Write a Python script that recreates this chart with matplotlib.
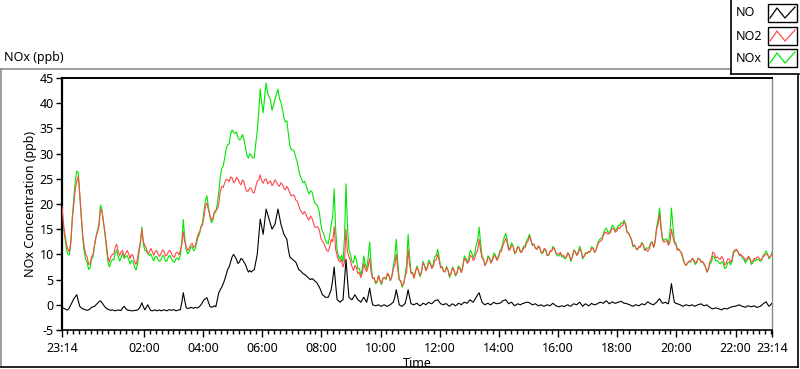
import numpy as np
import matplotlib
matplotlib.use("Agg")
import matplotlib.pyplot as plt
from matplotlib.lines import Line2D
from matplotlib.patches import Rectangle

plt.rcParams['font.family'] = ['Noto Sans', 'DejaVu Sans']

# ---- data: readings every 0.1 h from 23:14 (base) and the reading between them (mid) ----
no_base = [-0.5,-0.8,-1,0,1.2,2,-0.3,-0.8,-1,-1,
           -0.5,-0.3,0.3,0.8,0,-0.7,-1,-1,-1.2,-1,
           -1.1,-0.3,-1,-1.1,-1.2,-1.1,-0.8,0.4,-1,0,
           -1.1,-1.1,-1.2,-1,-1.1,-1.1,-1,-1.1,-1,-1.1,
           -1,2.4,-0.6,-0.7,-0.6,-0.5,-0.6,0,1,1.4,
           -0.3,-0.4,-0.4,2.4,3.5,5,7,8.5,10,9,
           8.5,9,8,6.5,6.5,7,10,17,14,19,
           17,15,16,19,16,14,13,9.5,9,8.5,
           7,6.5,6,5.5,5,5,4.5,3.5,2,1.5,
           1.5,3,7.5,1,0.5,1,9,1.5,1,2,
           1,0.5,1.5,0.5,3.3,0,-0.2,0,-0.3,0,
           -0.3,0,0.5,3,0,-0.3,0.3,3,0.2,0,
           0.3,-0.2,0.3,0,0.5,0.2,0.8,1,0.2,0,
           0.2,-0.3,0.2,-0.2,0.3,0,0.5,0.3,1,0.5,
           1.5,2.4,0.5,0,0.3,0,0.5,0.2,0.3,0.8,
           1,0.2,0.5,-0.2,0.2,0,0.3,0.5,0.4,0,
           0.2,-0.2,0,-0.3,0,-0.2,0.3,-0.2,-0.4,-0.2,
           -0.3,0,-0.3,0.2,0,0.5,-0.3,0.2,-0.2,0.3,
           0,0.2,0.5,0.3,0.8,0.2,0.6,0.3,0.5,0.7,
           0.3,0.2,0,-0.3,0,-0.2,0.2,0,0.6,0.2,
           0,0.5,1.2,0.3,0.5,0.2,4.2,0.5,0.2,0,
           -0.3,0,-0.2,0,-0.3,0,0.2,-0.2,0,-0.5,
           -0.8,-0.6,-0.8,-1,-0.7,-0.8,-0.5,-0.3,-0.2,0,
           -0.3,-0.5,-0.2,-0.4,-0.2,-0.5,-0.3,0.2,0.6,-0.3,
           0.3]
no_mid = [-0.7,-1,-0.6,0.6,1.6,0.8,-0.6,-0.9,-1.1,-0.8,
          -0.4,0,0.6,0.4,-0.4,-0.9,-1.1,-1.1,-1.1,-1.1,
          -0.6,-0.7,-1.1,-1.2,-1.1,-1,-0.3,-0.4,-0.5,-0.6,
          -1.2,-1,-1.1,-1.2,-1,-1.2,-1,-1,-1.2,-1,
          0.5,0.8,-0.7,-0.5,-0.7,-0.6,-0.3,0.5,1.2,0.5,
          -0.5,-0.2,1,3,4.2,6,7.5,9.5,9.5,8.2,
          9.2,8.5,7.2,6.8,6.8,8.5,13.5,15.5,16.5,18,
          16,15.5,17.5,17.5,15,13.5,11,9.2,8.7,7.8,
          6.8,6.2,5.8,5.2,5.2,4.7,4,2.8,1.8,1.5,
          2.2,5,4,0.8,0.8,5,5,1.2,1.5,1.5,
          0.8,1,1,1.8,1.5,-0.1,-0.1,-0.2,-0.1,-0.2,
          -0.1,0.3,1.5,1.5,-0.2,0,1.5,1.5,0.1,0.2,
          0,0,0.2,0.3,0.3,0.5,0.9,0.6,0.1,0.2,
          -0.1,0,0,0,0.2,0.3,0.4,0.7,0.7,1,
          2,1.4,0.2,0.2,0.1,0.3,0.3,0.3,0.5,0.9,
          0.6,0.4,0.1,0,0.1,0.2,0.4,0.5,0.2,0.1,
          0,-0.1,-0.2,-0.1,-0.1,0.1,0,-0.3,-0.3,-0.3,
          -0.1,-0.2,0,0.1,0.3,0.1,0,0,0,0.1,
          0.1,0.4,0.4,0.6,0.5,0.4,0.4,0.4,0.6,0.5,
          0.3,0.1,-0.2,-0.1,-0.1,0,0.1,0.3,0.4,0.1,
          0.3,0.9,0.7,0.4,0.3,2,2.2,0.3,0.1,-0.2,
          -0.1,-0.1,-0.1,-0.2,-0.1,0.1,0,-0.1,-0.3,-0.7,
          -0.7,-0.7,-0.9,-0.8,-0.8,-0.6,-0.4,-0.3,-0.1,-0.2,
          -0.4,-0.3,-0.3,-0.3,-0.4,-0.4,-0.1,0.4,0.1,0]

no2_base = [19.5,14,11,12.5,20,24.5,22,14,10,8,
            9.5,12,14.5,19,16.5,12,8.5,10,11.5,10.5,
            10.5,9.5,10.8,9.2,9.8,8,11,15,11.8,10.2,
            11.2,9.8,10.8,9.6,10.9,9.7,10.6,10.2,9.4,10.4,
            10.8,14.5,11.5,11.2,12.2,11.6,14,15.5,17.5,20.2,
            17.8,17.2,18.8,20,23.5,24.2,24.8,25.4,24.2,25.3,
            24.2,24.8,23.2,22.6,23.1,22.2,24.5,25.8,24.1,25,
            24.3,23.6,24.8,23.8,24.2,23.1,23.5,22.2,21.8,20.8,
            19.8,18.4,18.5,17.2,17.6,16.2,15.4,14.8,12.6,11.4,
            10.6,13,15.5,9.8,8.5,7.5,15,9.5,7.6,7.8,
            6.2,5.4,8.2,6.6,9.2,5.2,4.4,5.8,4.3,5.4,
            6.3,4.8,7.2,10,5,3.8,5.7,11,6.2,5.3,
            7.4,5.8,8.3,6.8,8.4,7.2,8.8,10,7.3,6.6,
            7.4,5.7,7.3,5.9,7.4,6.4,9.2,8.2,9.8,8.8,
            10.3,13,9.2,7.8,9.4,8.3,9.8,8.8,10.4,11.6,
            13.2,10.8,11.8,10.3,11.4,10.4,11.3,12.2,13.6,11.8,
            11.2,11.7,10.3,11.2,9.8,10.7,11.3,10.3,10.1,9.7,
            9.4,10.3,8.9,10.7,9.8,11.1,9.4,10.2,10.6,11.2,
            10.4,11.8,12.6,13.8,14.4,14.1,15.2,14.4,15.3,15.6,
            16.5,14.3,13.6,11.8,11.2,11.6,12.2,10.8,10.6,12.1,
            11.4,15,18,12.8,12.6,11.8,15,12.2,10.8,10.6,
            9.1,7.8,8.7,9.2,8.3,9.2,8.4,8.2,6.5,8.6,
            10.5,9.3,9.2,9.6,7.9,9.1,8.4,10.6,11,9.8,
            9.6,8.8,9.6,8.4,9.2,9.5,8.9,9.6,10.1,9.4,
            10.1]
no2_mid = [16,12,10.5,17,23,25.5,18,11.5,9.5,8.2,
           10,13.5,15.5,18.5,14.5,9.5,9.5,10,12,9.8,
           10.8,10.2,10.2,10,8.6,9,12.5,12.5,11.2,10.4,
           10.6,10.5,10,10.2,10.6,9.9,10.8,9.6,10.3,9.9,
           12,12.5,10.8,11.9,11.4,12.8,14.4,15.8,19.6,18.8,
           16.8,18.4,19,22.5,23.3,24.9,24.4,25.2,24.5,24.9,
           23.8,24.3,22.5,23.2,22.3,23.5,24.8,24.6,24.8,24,
           24.6,24.1,24.3,23.5,23.9,22.8,23,21.6,21.7,20.6,
           18.8,18,17.9,16.8,17.2,15.4,15.5,13.2,12.3,10.8,
           11.5,12.5,11,8.8,9,8.5,10.5,8.8,6.8,7.4,
           6.4,6.2,7,7.6,6.4,5.4,4.6,4.9,5.3,5.2,
           5.9,5.5,7.9,7,4.8,4.2,6.5,8,6.3,6.6,
           6.8,6.4,7.8,7.3,8.1,7.6,8.9,8.8,7.5,6.5,
           6.9,6.2,6.9,6.3,7.2,7.5,8.9,8.6,9.6,9.1,
           10.8,10.8,8.9,8.3,9.3,8.8,9.6,9.3,10.6,12.5,
           12.2,11,11.6,10.5,11.3,10.5,11.3,12.6,12.8,12,
           11,11.4,10.4,11,9.9,10.6,11.1,10,10.4,9.8,
           9.5,9.9,9.4,10.5,10.2,10.7,9.6,10.2,10.5,11.2,
           10.8,12.4,12.8,14.3,14,14.5,15.1,14.6,15.1,15.7,
           15.8,14.2,13,11.9,11,11.5,11.8,11,11,12.4,
           12.5,16,15,12.4,12.7,12.4,13.5,11.9,11,10.2,
           8.2,8.4,8.6,9,8.4,9.1,8.6,7.6,7.2,9.1,
           10.2,9.5,9,9.1,8.2,9.1,9,10.9,10.6,10,
           9.4,9.1,9.3,8.6,9.1,9.4,9,9.7,10,9.6]

nox_base = [19.0,13.2,10.0,12.5,21.2,26.5,21.7,13.2,9.0,7.0,
            9.0,11.7,14.8,19.8,16.5,11.3,7.5,9.0,10.3,9.5,
            9.4,9.2,9.8,8.1,8.6,6.9,10.2,15.4,10.8,10.2,
            10.1,8.7,9.6,8.6,9.8,8.6,9.6,9.1,8.4,9.3,
            9.8,16.9,10.9,10.5,11.6,11.1,13.4,15.5,18.5,21.6,
            17.5,16.8,18.4,22.4,27.0,29.2,31.8,33.9,34.2,34.3,
            32.7,33.8,31.2,29.1,29.6,29.2,34.5,42.8,38.1,44.0,
            41.3,38.6,40.8,42.8,40.2,37.1,36.5,31.7,30.8,29.3,
            26.8,24.9,24.5,22.7,22.6,21.2,19.9,18.3,14.6,12.9,
            12.1,16.0,23.0,10.8,9.0,8.5,24.0,11.0,8.6,9.8,
            7.2,5.9,9.7,7.1,12.5,5.2,4.2,5.8,4.0,5.4,
            6.0,4.8,7.7,13.0,5.0,3.5,6.0,14.0,6.4,5.3,
            7.7,5.6,8.6,6.8,8.9,7.4,9.6,11.0,7.5,6.6,
            7.6,5.4,7.5,5.7,7.7,6.4,9.7,8.5,10.8,9.3,
            11.8,15.4,9.7,7.8,9.7,8.3,10.3,9.0,10.7,12.4,
            14.2,11.0,12.3,10.1,11.6,10.4,11.6,12.7,14.0,11.8,
            11.4,11.5,10.3,10.9,9.8,10.5,11.6,10.1,9.7,9.5,
            9.1,10.3,8.6,10.9,9.8,11.6,9.1,10.4,10.4,11.5,
            10.4,12.0,13.1,14.1,15.2,14.3,15.8,14.7,15.8,16.3,
            16.8,14.5,13.6,11.5,11.2,11.4,12.4,10.8,11.2,12.3,
            11.4,15.5,19.2,13.1,13.1,12.0,19.2,12.7,11.0,10.6,
            8.8,7.8,8.5,9.2,8.0,9.2,8.6,8.0,6.5,8.1,
            9.7,8.7,8.4,8.6,7.2,8.3,7.9,10.3,10.8,9.8,
            9.3,8.3,9.4,8.0,9.0,9.0,8.6,9.8,10.7,9.1,
            10.4]
nox_mid = [15.3,11.0,9.9,17.6,24.6,26.3,17.4,10.6,8.4,7.4,
           9.6,13.5,16.1,18.9,14.1,8.6,8.4,8.9,10.9,8.7,
           10.2,9.5,9.1,8.8,7.5,8.0,12.2,12.1,10.7,9.8,
           9.4,9.5,8.9,9.0,9.6,8.7,9.8,8.6,9.1,8.9,
           12.5,13.3,10.1,11.4,10.7,12.2,14.1,16.3,20.8,19.3,
           16.3,18.2,20.0,25.5,27.5,30.9,31.9,34.7,34.0,33.1,
           33.0,32.8,29.7,30.0,29.1,32.0,38.3,40.1,41.3,42.0,
           40.6,39.6,41.8,41.0,38.9,36.3,34.0,30.8,30.4,28.4,
           25.6,24.2,23.7,22.0,22.4,20.1,19.5,16.0,14.1,12.3,
           13.7,17.5,15.0,9.6,9.8,13.5,15.5,10.0,8.3,8.9,
           7.2,7.2,8.0,9.4,7.9,5.3,4.5,4.7,5.2,5.0,
           5.8,5.8,9.4,8.5,4.6,4.2,8.0,9.5,6.4,6.8,
           6.8,6.4,8.0,7.6,8.4,8.1,9.8,9.4,7.6,6.7,
           6.8,6.2,6.9,6.3,7.4,7.8,9.3,9.3,10.3,10.1,
           12.8,12.2,9.1,8.5,9.4,9.1,9.9,9.6,11.1,13.4,
           12.8,11.4,11.7,10.5,11.4,10.7,11.7,13.1,13.0,12.1,
           11.0,11.3,10.2,10.9,9.8,10.7,11.1,9.7,10.1,9.5,
           9.4,9.7,9.4,10.6,10.5,10.8,9.6,10.2,10.5,11.3,
           10.9,12.8,13.2,14.9,14.5,14.9,15.5,15.0,15.7,16.2,
           16.1,14.3,12.8,11.8,10.9,11.5,11.9,11.3,11.4,12.5,
           12.8,16.9,15.7,12.8,13.0,14.4,15.7,12.2,11.1,10.0,
           8.1,8.3,8.5,8.8,8.3,9.2,8.6,7.5,6.9,8.4,
           9.5,8.8,8.1,8.3,7.4,8.5,8.6,10.6,10.5,9.8,
           9.0,8.8,9.0,8.3,8.7,9.0,8.9,10.1,10.1,9.6]

tick_labels = ["23:14", "02:00", "04:00", "06:00", "08:00", "10:00", "12:00",
               "14:00", "16:00", "18:00", "20:00", "22:00", "23:14"]
y_ticks = [-5, 0, 5, 10, 15, 20, 25, 30, 35, 40, 45]
series_names = ["NO", "NO2", "NOx"]
series_colors = ["#000000", "#ff4848", "#00e600"]


def interleave(base, mid):
    out = np.empty(len(base) + len(mid))
    out[0::2] = base
    out[1::2] = mid
    return out


no = interleave(no_base, no_mid)
no2 = interleave(no2_base, no2_mid)
nox = interleave(nox_base, nox_mid)
t = np.arange(len(no)) * 0.05  # hours since 23:14

# ---- figure ----
W, H = 800, 369
fig = plt.figure(figsize=(W/100, H/100), dpi=100)
fig.patch.set_facecolor("white")

def fx(px): return px / W
def fy(py): return 1 - py / H

ax = fig.add_axes([fx(62), fy(330), fx(772) - fx(62), fy(78) - fy(330)])

ax.plot(t, nox, color=series_colors[2], lw=0.8, zorder=2)
ax.plot(t, no2, color=series_colors[1], lw=0.8, zorder=3)
ax.plot(t, no, color=series_colors[0], lw=0.8, zorder=4)

ax.set_xlim(0, 24)
ax.set_ylim(-5, 45)

# x ticks
start_min = 23 * 60 + 14
major_pos = [0.0] + [((h * 60 - start_min) % 1440) / 60 for h in range(2, 23, 2)] + [24.0]
ax.set_xticks(major_pos)
ax.set_xticklabels(tick_labels)
minor_pos = [((m - start_min) % 1440) / 60 for m in range(0, 1440, 12)]
ax.set_xticks(minor_pos, minor=True)
ax.set_yticks(y_ticks)
ax.set_yticklabels([str(v) for v in y_ticks])

ax.tick_params(axis='x', which='major', length=5, width=1, pad=4, labelsize=9, colors='#000000')
ax.tick_params(axis='x', which='minor', length=3, width=1)
ax.tick_params(axis='y', which='major', length=4, width=1, pad=2, labelsize=9)

ax.spines['left'].set_color('black'); ax.spines['left'].set_linewidth(1.6)
ax.spines['top'].set_color('black'); ax.spines['top'].set_linewidth(1.4)
ax.spines['bottom'].set_color('black'); ax.spines['bottom'].set_linewidth(1.2)
ax.spines['right'].set_color('#8a8a8a'); ax.spines['right'].set_linewidth(1.0)

ax.set_ylabel("NOx Concentration (ppb)", fontsize=9)
ax.yaxis.set_label_coords((37 - 62) / 710, 0.5)
ax.set_xlabel("Time", fontsize=9, labelpad=1)

# title-like label
fig.text(fx(4), fy(58), "NOx (ppb)", fontsize=9, ha='left', va='center')

# outer frame
fig.add_artist(Line2D([fx(1), fx(798)], [fy(69), fy(69)], color='#8a8a8a', lw=1.2))
fig.add_artist(Line2D([fx(1), fx(1)], [fy(69), fy(367)], color='#8a8a8a', lw=1.2))
fig.add_artist(Line2D([fx(1), fx(798)], [fy(367), fy(367)], color='black', lw=1.2))
fig.add_artist(Line2D([fx(798), fx(798)], [fy(69), fy(367)], color='black', lw=1.2))

# legend box
fig.add_artist(Rectangle((fx(731), fy(74)), fx(799) - fx(731), fy(0) - fy(74),
                         facecolor='white', edgecolor='none', zorder=5))
fig.add_artist(Line2D([fx(731), fx(731)], [fy(0), fy(74)], color='black', lw=1.2, zorder=6))
fig.add_artist(Line2D([fx(731), fx(799)], [fy(74), fy(74)], color='black', lw=1.2, zorder=6))
row_y = [13, 36, 58]
for name, col, ry in zip(series_names, series_colors, row_y):
    fig.text(fx(736), fy(ry), name, fontsize=9, ha='left', va='center', zorder=7)
    fig.add_artist(Rectangle((fx(768), fy(ry + 9)), fx(797) - fx(768), fy(ry - 9) - fy(ry + 9),
                             facecolor='white', edgecolor='black', lw=1.0, zorder=6))
    fig.add_artist(Line2D([fx(770), fx(777), fx(785), fx(795)],
                          [fy(ry + 5), fy(ry - 5), fy(ry + 5), fy(ry - 6)],
                          color=col, lw=0.9, zorder=7))

fig.savefig("out.png", dpi=100)
